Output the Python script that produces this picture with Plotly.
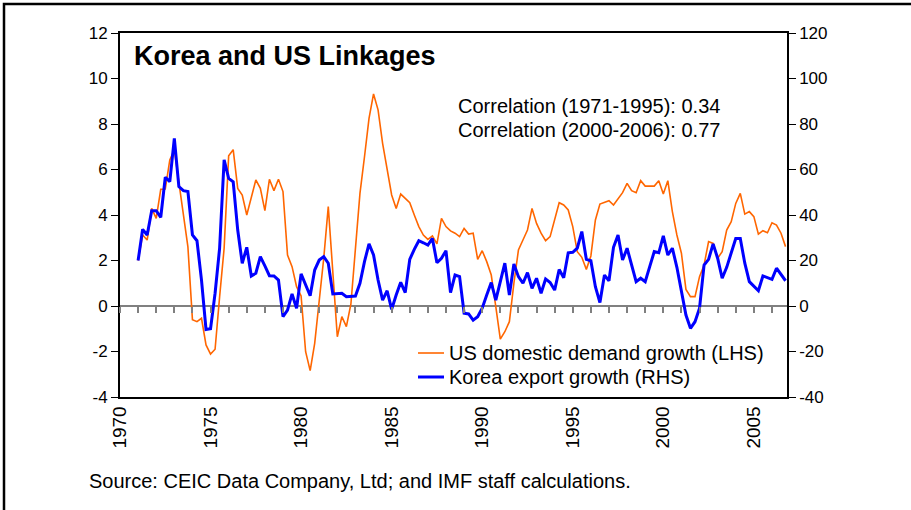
import plotly.graph_objects as go

# ---------------- data (quarterly, starting 1971Q1) ----------------
start_year = 1971
step = 0.25

us_demand = [2.0, 3.12, 2.9, 4.29, 3.85, 5.13, 5.14, 6.42, 6.86, 5.4,
             3.9, 2.6, -0.6, -0.69, -0.54, -1.71, -2.11, -1.9, 0.4, 2.54,
             6.6, 6.87, 5.17, 4.88, 4.0, 4.73, 5.54, 5.17, 4.19, 5.57,
             5.07, 5.57, 5.03, 2.24, 1.73, 0.85, 0.44, -2.01, -2.84, -1.64,
             0.12, 2.1, 4.37, 1.44, -1.35, -0.47, -0.91, 0.09, 2.46, 4.95,
             6.56, 8.25, 9.32, 8.62, 7.15, 6.05, 4.88, 4.29, 4.92, 4.73,
             4.54, 4.0, 3.49, 3.12, 2.93, 3.08, 2.73, 3.85, 3.49, 3.3,
             3.2, 3.05, 3.41, 3.16, 3.2, 2.05, 2.43, 1.95, 1.36, -0.03,
             -1.46, -1.13, -0.69, 1.0, 2.46, 2.9, 3.34, 4.29, 3.63, 3.2,
             2.87, 3.05, 3.85, 4.54, 4.44, 4.22, 3.49, 2.39, 2.14, 1.61,
             2.2, 3.78, 4.48, 4.54, 4.63, 4.44, 4.69, 4.98, 5.39, 5.07,
             4.98, 5.51, 5.27, 5.27, 5.27, 5.51, 4.92, 5.51, 4.15, 3.12,
             2.32, 0.73, 0.41, 0.41, 1.29, 1.8, 2.83, 2.75, 2.1, 2.39,
             3.34, 3.71, 4.51, 4.95, 4.04, 4.15, 3.93, 3.16, 3.31, 3.22,
             3.66, 3.56, 3.2, 2.61]

korea_exports = [20, 33.7, 31.2, 41.9, 41.9, 39, 56.6, 54.7, 73.7, 52.5,
                 50.7, 50.3, 31.2, 28.7, 11.4, -10.3, -10, 5.6, 25.4, 64.2,
                 56.1, 54.6, 33.4, 18.8, 25.8, 13.2, 14.4, 21.7, 17.6, 13.3,
                 13.2, 11.4, -4.7, -1.8, 5.3, -1, 14.1, 9.2, 4.5, 15.8,
                 20.2, 21.7, 18.8, 5.3, 5.3, 5.6, 4.1, 4.3, 4.4, 10,
                 19.5, 27.3, 22.4, 11.4, 2.6, 6.7, -1.5, 4.8, 10.4, 5.9,
                 20.5, 24.9, 28.7, 27.8, 26.8, 29.7, 19, 21, 24.3, 5.9,
                 13.6, 12.9, -3.2, -3.5, -6.2, -4.7, -1, 4.8, 10.3, 2.6,
                 11.4, 18.8, 4.8, 18.5, 12.9, 10, 14.7, 7.8, 12.2, 5.6,
                 11.9, 10.3, 7, 16, 12.4, 23.4, 23.6, 25.4, 32.7, 20.5,
                 19.9, 8.5, 1.5, 13.6, 11.1, 25.8, 31.2, 20.2, 25.4, 18,
                 10.7, 12.2, 10.7, 17.3, 23.9, 23.4, 30.8, 22.4, 25.4, 17,
                 7, -4, -9.8, -6.9, -1, 18, 20.5, 27.3, 21, 12.2,
                 17, 23.4, 29.7, 29.7, 18.8, 10.7, 8.8, 6.7, 13.2, 12.6,
                 11.7, 16.6, 13.6, 11.1]

x_tick_years = [1970, 1975, 1980, 1985, 1990, 1995, 2000, 2005]
left_ticks = [-4, -2, 0, 2, 4, 6, 8, 10, 12]
right_ticks = [-40, -20, 0, 20, 40, 60, 80, 100, 120]

title_text = "Korea and US Linkages"
corr_lines = ["Correlation (1971-1995): 0.34", "Correlation (2000-2006): 0.77"]
source_text = "Source: CEIC Data Company, Ltd; and IMF staff calculations."
name_us = "US domestic demand growth (LHS)"
name_kr = "Korea export growth (RHS)"

# ---------------------------------------------------------------
x_us = [start_year + i * step for i in range(len(us_demand))]
x_kr = [start_year + i * step for i in range(len(korea_exports))]

FONT = "Liberation Sans, Arial, sans-serif"
W, H = 911, 510
L, R, T, B = 120, 124, 33, 113
pw, ph = W - L - R, H - T - B
US_COLOR, KR_COLOR = "#FF6600", "#0000FF"
US_W, KR_W = 1.6, 3


def px_x(p):
    return (p - L) / pw


def px_y(p):
    return (H - B - p) / ph


xrange_ = [1970, 2006.83]

fig = go.Figure()
# invisible carrier for the year tick marks along the zero line
fig.add_trace(go.Scatter(x=[xrange_[0]], y=[None], mode="lines",
                         showlegend=False, hoverinfo="skip",
                         xaxis="x2", yaxis="y"))
fig.add_trace(go.Scatter(x=x_us, y=us_demand, name=name_us, mode="lines",
                         line=dict(color=US_COLOR, width=US_W),
                         xaxis="x", yaxis="y"))
fig.add_trace(go.Scatter(x=x_kr, y=korea_exports, name=name_kr, mode="lines",
                         line=dict(color=KR_COLOR, width=KR_W),
                         xaxis="x", yaxis="y2"))

fig.update_layout(
    width=W, height=H,
    margin=dict(l=L, r=R, t=T, b=B, pad=0),
    paper_bgcolor="white", plot_bgcolor="white",
    font=dict(family=FONT, size=16, color="black"),
    showlegend=False,
    xaxis=dict(range=xrange_, tickmode="array", tickvals=x_tick_years,
               ticktext=[str(v) for v in x_tick_years], tickangle=-90,
               ticks="", showgrid=False, zeroline=False,
               showline=True, linecolor="black", linewidth=1.5, mirror=True,
               tickfont=dict(size=19, family=FONT)),
    xaxis2=dict(range=xrange_, overlaying="x", anchor="free", position=0.25,
                tickmode="linear", tick0=1970, dtick=1, ticks="outside",
                ticklen=6, tickwidth=1.5, tickcolor="#808080",
                showticklabels=False, showgrid=False, zeroline=False,
                showline=False),
    yaxis=dict(range=[-4, 12], tickmode="array", tickvals=left_ticks,
               ticktext=[str(v) for v in left_ticks], ticks="outside",
               ticklen=7, tickcolor="black", tickwidth=1,
               showgrid=False, zeroline=True, zerolinecolor="#808080",
               zerolinewidth=2, showline=True, linecolor="black",
               linewidth=2, tickfont=dict(size=17, family=FONT)),
    yaxis2=dict(range=[-40, 120], tickmode="array", tickvals=right_ticks,
                ticktext=[str(v) for v in right_ticks], overlaying="y",
                side="right", ticks="outside", ticklen=7, tickcolor="black",
                showgrid=False, zeroline=False, showline=True,
                linecolor="black", linewidth=1.5,
                tickfont=dict(size=17, family=FONT)),
)

annotations = [
    dict(x=px_x(132), y=px_y(56), xref="paper", yref="paper",
         text=f"<b>{title_text}</b>", showarrow=False, xanchor="left",
         yanchor="middle", font=dict(size=27, family=FONT)),
    dict(x=px_x(456), y=px_y(106), xref="paper", yref="paper",
         text=corr_lines[0], showarrow=False, xanchor="left",
         yanchor="middle", font=dict(size=20, family=FONT)),
    dict(x=px_x(456), y=px_y(130), xref="paper", yref="paper",
         text=corr_lines[1], showarrow=False, xanchor="left",
         yanchor="middle", font=dict(size=20, family=FONT)),
    dict(x=px_x(87), y=px_y(481), xref="paper", yref="paper",
         text=source_text, showarrow=False, xanchor="left",
         yanchor="middle", font=dict(size=20, family=FONT)),
]

# manual legend (line samples + labels)
legend_rows = [(name_us, US_COLOR, US_W, 353), (name_kr, KR_COLOR, KR_W, 377)]
for label, color, width, ypx in legend_rows:
    fig.add_shape(type="line", xref="paper", yref="paper",
                  x0=px_x(418), x1=px_x(444), y0=px_y(ypx), y1=px_y(ypx),
                  line=dict(color=color, width=width))
    annotations.append(dict(x=px_x(447), y=px_y(ypx), xref="paper",
                            yref="paper", text=label, showarrow=False,
                            xanchor="left", yanchor="middle",
                            font=dict(size=20, family=FONT)))
fig.update_layout(annotations=annotations)

# outer frame of the figure
fig.add_shape(type="rect", xref="paper", yref="paper",
              x0=px_x(4), x1=px_x(915), y0=px_y(515), y1=px_y(4),
              line=dict(color="black", width=2.5), layer="above")

fig.write_html("out.html", config={"displayModeBar": False},
               post_script="document.body.style.margin='0';")
